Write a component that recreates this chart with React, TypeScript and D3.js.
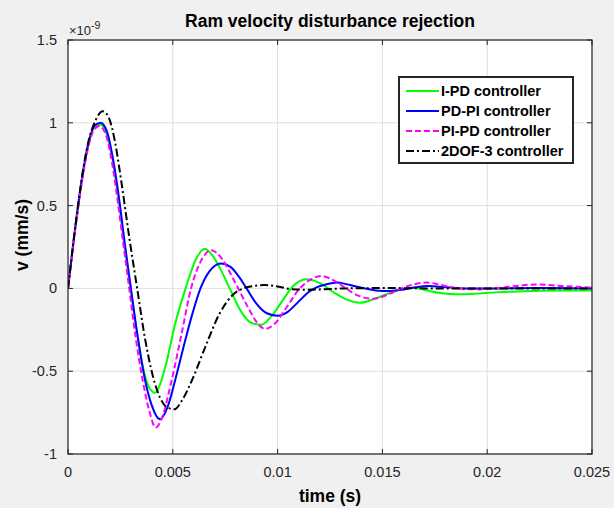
import React from "react";
import * as d3 from "d3";

// ---- data (time in ms, velocity in units of 1e-9 mm/s) ----
const xTicks = [0, 0.005, 0.01, 0.015, 0.02, 0.025];
const xTickLabels = ["0", "0.005", "0.01", "0.015", "0.02", "0.025"];
const yTicks = [-1, -0.5, 0, 0.5, 1, 1.5];
const yTickLabels = ["-1", "-0.5", "0", "0.5", "1", "1.5"];

const seriesNames = ["I-PD controller", "PD-PI controller", "PI-PD controller", "2DOF-3 controller"];

const ipdT = [0, 0.25, 0.5, 0.75, 1.0, 1.25, 1.55, 1.85, 2.15, 2.45, 2.7, 2.92, 3.26, 3.62, 3.88, 4.15, 4.39, 4.69, 5.1, 5.61, 6.12, 6.53, 6.94, 7.34, 7.75, 8.26, 8.77, 9.23, 9.69, 10.2, 10.71, 11.37, 12.04, 12.75, 13.26, 13.92, 14.59, 15.3, 15.91, 16.42, 17.03, 17.75, 18.56, 19.38, 20.4, 21.4, 22.4, 23.5, 24.5, 25.0];
const ipdV = [0, 0.27, 0.51, 0.72, 0.88, 0.97, 0.99, 0.93, 0.76, 0.5, 0.25, 0.05, -0.24, -0.5, -0.6, -0.63, -0.58, -0.45, -0.22, 0.0, 0.18, 0.24, 0.19, 0.1, -0.01, -0.14, -0.21, -0.22, -0.17, -0.08, 0.01, 0.055, 0.03, -0.03, -0.065, -0.087, -0.065, -0.03, -0.005, 0.004, -0.01, -0.028, -0.036, -0.032, -0.024, -0.018, -0.015, -0.013, -0.012, -0.012];

const pdpiT = [0, 0.25, 0.5, 0.75, 1.0, 1.25, 1.55, 1.85, 2.15, 2.45, 2.7, 2.97, 3.3, 3.67, 3.98, 4.39, 4.74, 5.1, 5.5, 5.92, 6.32, 6.73, 7.3, 7.75, 8.16, 8.52, 8.98, 9.49, 10.0, 10.5, 11.0, 11.5, 11.83, 12.34, 12.85, 13.46, 14.18, 14.69, 15.3, 15.9, 16.5, 17.2, 17.95, 18.9, 20.4, 22.4, 25.0];
const pdpiV = [0, 0.27, 0.52, 0.73, 0.89, 0.98, 1.0, 0.95, 0.78, 0.53, 0.28, 0.03, -0.27, -0.55, -0.7, -0.79, -0.72, -0.56, -0.36, -0.16, 0.0, 0.1, 0.15, 0.13, 0.07, 0.0, -0.09, -0.15, -0.165, -0.14, -0.08, -0.02, 0.005, 0.025, 0.035, 0.02, 0.0, -0.012, -0.016, -0.008, 0.005, 0.014, 0.008, 0.0, 0.0, 0.002, 0.0];

const pipdT = [0, 0.25, 0.5, 0.75, 1.0, 1.25, 1.5, 1.8, 2.1, 2.4, 2.65, 2.87, 3.2, 3.57, 3.88, 4.18, 4.49, 4.9, 5.41, 5.87, 6.32, 6.83, 7.34, 7.75, 8.12, 8.57, 8.98, 9.4, 9.89, 10.4, 11.06, 11.53, 12.09, 12.65, 13.26, 13.87, 14.56, 15.2, 15.91, 16.52, 17.14, 17.75, 18.36, 19.48, 20.4, 21.4, 22.4, 23.5, 24.5, 25.0];
const pipdV = [0, 0.26, 0.5, 0.71, 0.87, 0.96, 0.98, 0.93, 0.76, 0.5, 0.26, 0.05, -0.27, -0.56, -0.74, -0.84, -0.78, -0.58, -0.28, 0.0, 0.16, 0.23, 0.18, 0.09, 0.0, -0.11, -0.2, -0.245, -0.21, -0.12, 0.0, 0.05, 0.075, 0.05, 0.0, -0.045, -0.062, -0.04, 0.0, 0.025, 0.035, 0.022, 0.005, -0.006, 0.0, 0.015, 0.024, 0.015, 0.008, 0.005];

const dofT = [0, 0.25, 0.5, 0.75, 1.0, 1.3, 1.65, 1.95, 2.25, 2.55, 2.92, 3.3, 3.67, 4.03, 4.39, 4.75, 5.08, 5.42, 5.93, 6.53, 7.24, 7.86, 8.36, 8.87, 9.38, 10.0, 10.7, 11.42, 12.24, 13.26, 15.3, 17.3, 20.4, 25.0];
const dofV = [0, 0.27, 0.52, 0.74, 0.9, 1.01, 1.07, 1.03, 0.88, 0.64, 0.31, 0.0, -0.3, -0.52, -0.66, -0.72, -0.73, -0.68, -0.55, -0.36, -0.15, -0.04, 0.0, 0.015, 0.02, 0.012, -0.005, -0.008, -0.005, 0.0, 0.002, 0.0, 0.0, 0.0];

const seriesT = [ipdT, pdpiT, pipdT, dofT];
const seriesV = [ipdV, pdpiV, pipdV, dofV];
const seriesColors = ["#00ff00", "#0000ff", "#ff00ff", "#000000"];
const seriesDash = ["", "", "6,3", "8,3,2,3"];

const W = 614;
const H = 508;
const M = { left: 68, right: 592, top: 40, bottom: 454 };
const FONT = "'Liberation Sans', Arial, Helvetica, sans-serif";
const AX = "#262626";

export default function App() {
  const x = d3.scaleLinear().domain([0, 0.025]).range([M.left, M.right]);
  const y = d3.scaleLinear().domain([-1, 1.5]).range([M.bottom, M.top]);
  const line = d3
    .line<[number, number]>()
    .x((d) => x(d[0] / 1000))
    .y((d) => y(d[1]))
    .curve(d3.curveMonotoneX);

  const paths = seriesT.map((ts, i) => line(ts.map((t, j) => [t, seriesV[i][j]] as [number, number])) || "");

  const lg = { x: 399, y: 77, w: 174, h: 86 };
  const rowY = (i: number) => lg.y + 14 + i * 20;

  return (
    <svg width={W} height={H} style={{ position: "absolute", left: 0, top: 0 }} fontFamily={FONT}>
      <rect x={0} y={0} width={W} height={H} fill="#f0f0f0" />
      <rect x={M.left} y={M.top} width={M.right - M.left} height={M.bottom - M.top} fill="#ffffff" />
      {/* grid */}
      {xTicks.map((t, i) => (
        <line key={"gx" + i} x1={x(t)} x2={x(t)} y1={M.top} y2={M.bottom} stroke="#dedede" strokeWidth={1} />
      ))}
      {yTicks.map((t, i) => (
        <line key={"gy" + i} x1={M.left} x2={M.right} y1={y(t)} y2={y(t)} stroke="#dedede" strokeWidth={1} />
      ))}
      {/* series */}
      <defs>
        <clipPath id="plotclip">
          <rect x={M.left} y={M.top} width={M.right - M.left} height={M.bottom - M.top} />
        </clipPath>
      </defs>
      <g clipPath="url(#plotclip)">
        {paths.map((p, i) => (
          <path key={"s" + i} d={p} fill="none" stroke={seriesColors[i]} strokeWidth={2} strokeDasharray={seriesDash[i] || undefined} />
        ))}
      </g>
      {/* axes box */}
      <rect x={M.left} y={M.top} width={M.right - M.left} height={M.bottom - M.top} fill="none" stroke={AX} strokeWidth={1.2} />
      {xTicks.map((t, i) => (
        <g key={"tx" + i}>
          <line x1={x(t)} x2={x(t)} y1={M.bottom} y2={M.bottom - 5} stroke={AX} />
          <line x1={x(t)} x2={x(t)} y1={M.top} y2={M.top + 5} stroke={AX} />
          <text x={x(t)} y={M.bottom + 23} textAnchor="middle" fontSize={14.5} fill={AX}>
            {xTickLabels[i]}
          </text>
        </g>
      ))}
      {yTicks.map((t, i) => (
        <g key={"ty" + i}>
          <line x1={M.left} x2={M.left + 5} y1={y(t)} y2={y(t)} stroke={AX} />
          <line x1={M.right} x2={M.right - 5} y1={y(t)} y2={y(t)} stroke={AX} />
          <text x={M.left - 11} y={y(t) + 5} textAnchor="end" fontSize={14.5} fill={AX}>
            {yTickLabels[i]}
          </text>
        </g>
      ))}
      {/* exponent */}
      <text x={69} y={35} fontSize={13} fill={AX}>
        {"×10"}
        <tspan dy={-6} fontSize={10.5}>-9</tspan>
      </text>
      {/* title and labels */}
      <text x={(M.left + M.right) / 2} y={27} textAnchor="middle" fontSize={17.5} fontWeight="bold" fill="#000">
        Ram velocity disturbance rejection
      </text>
      <text x={(M.left + M.right) / 2} y={502} textAnchor="middle" fontSize={17.5} fontWeight="bold" fill="#000">
        time (s)
      </text>
      <text transform={`translate(28,235) rotate(-90)`} textAnchor="middle" fontSize={17.5} fontWeight="bold" fill="#000">
        v (mm/s)
      </text>
      {/* legend */}
      <rect x={lg.x} y={lg.y} width={lg.w} height={lg.h} fill="#ffffff" stroke="#262626" strokeWidth={2} />
      {seriesNames.map((n, i) => (
        <g key={"lg" + i}>
          <line x1={lg.x + 7} x2={lg.x + 40} y1={rowY(i)} y2={rowY(i)} stroke={seriesColors[i]} strokeWidth={2} strokeDasharray={seriesDash[i] || undefined} />
          <text x={lg.x + 42} y={rowY(i) + 5} fontSize={14.5} fontWeight="bold" fill="#000">
            {n}
          </text>
        </g>
      ))}
    </svg>
  );
}
